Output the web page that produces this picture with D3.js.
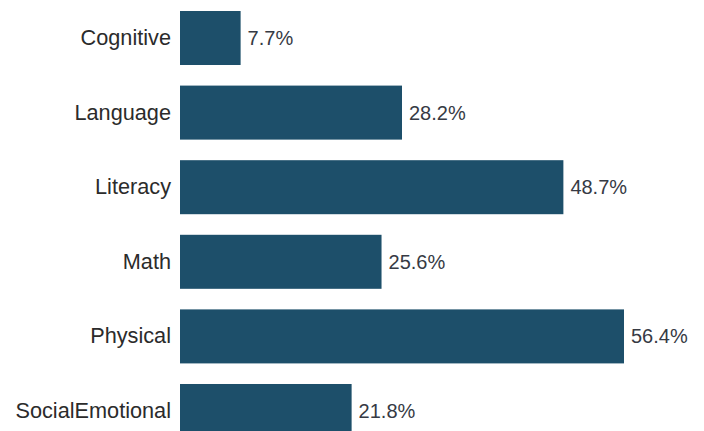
<!DOCTYPE html>
<html>
<head>
<meta charset="utf-8">
<script src="https://cdn.jsdelivr.net/npm/d3@7/dist/d3.min.js"></script>
<style>
  html, body { margin: 0; padding: 0; background: #ffffff; }
  svg { display: block; }
</style>
</head>
<body>
<svg id="chart" width="704" height="431"></svg>
<script>
// Share of items per developmental domain (percent)
const categories = ["Cognitive", "Language", "Literacy", "Math", "Physical", "SocialEmotional"];
const values = [7.7, 28.2, 48.7, 25.6, 56.4, 21.8];

const width = 704, height = 431;
const svg = d3.select("#chart");

const x = d3.scaleLinear()
  .domain([0, 56.4])
  .range([180, 624]);

const y = d3.scaleBand()
  .domain(categories)
  .range([0.7, 448.3])
  .paddingInner(0.276)
  .paddingOuter(0.138);

const data = categories.map((c, i) => ({ cat: c, val: values[i] }));

svg.selectAll("rect.bar")
  .data(data)
  .join("rect")
  .attr("class", "bar")
  .attr("x", x(0))
  .attr("y", d => y(d.cat))
  .attr("width", d => x(d.val) - x(0))
  .attr("height", y.bandwidth())
  .attr("fill", "#1d4f6a");

// Category labels via a left axis without the domain line or ticks
const yAxis = d3.axisLeft(y).tickSize(0).tickPadding(9);
const gy = svg.append("g")
  .attr("transform", `translate(${x(0)},0)`)
  .call(yAxis);
gy.select(".domain").remove();
gy.selectAll("text")
  .attr("font-family", "Liberation Sans, Arial, sans-serif")
  .attr("font-size", 21.7)
  .attr("fill", "#2b2b2b");

// Value labels at the bar ends
svg.selectAll("text.val")
  .data(data)
  .join("text")
  .attr("class", "val")
  .attr("x", d => x(d.val) + 7)
  .attr("y", d => y(d.cat) + y.bandwidth() / 2)
  .attr("dy", "0.35em")
  .attr("font-family", "Liberation Sans, Arial, sans-serif")
  .attr("font-size", 20)
  .attr("fill", "#363a44")
  .text(d => d.val.toFixed(1) + "%");
</script>
</body>
</html>
